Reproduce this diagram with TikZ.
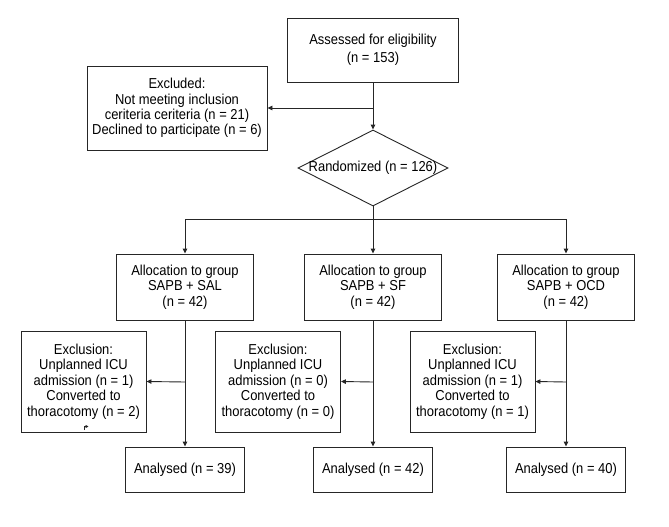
\documentclass[tikz,border=0pt]{standalone}
\usepackage{fontspec}
\setmainfont{Liberation Sans}[FakeStretch=0.9]
\usetikzlibrary{shapes.geometric,arrows.meta}
\begin{document}
\begin{tikzpicture}[x=1pt,y=-1pt,
  every node/.style={font=\fontsize{14.4}{15.4}\selectfont},
  box/.style={draw=black!85,line width=0.9pt,align=center,inner sep=0pt,anchor=center},
  conn/.style={draw=black!85,line width=0.9pt},
  arr/.style={conn,-{Triangle[length=5pt,width=4.5pt]}}]
\useasboundingbox (0,0) rectangle (669,527);
\fill[white] (0,0) rectangle (669,527);
% top
\node[box,minimum width=171pt,minimum height=64pt,font=\fontsize{14.4}{17.7}\selectfont] (assess) at (373,50) {Assessed for eligibility\\(n = 153)};
\node[box,minimum width=180pt,minimum height=84pt] (excl) at (177,108) {Excluded:\\Not meeting inclusion\\ceriteria ceriteria (n = 21)\\Declined to participate (n = 6)};
\node[draw=black!85,line width=0.9pt,diamond,minimum width=150pt,minimum height=76pt,inner sep=0pt] (rand) at (373,168) {};
\node (randt) at (373,168) {Randomized (n = 126)};
\coordinate (br) at (373,108);
\draw[arr] (assess.south) -- (rand.north);
\draw[arr] (br) -- (excl.east);
% split
\coordinate (split) at (373,219);
\coordinate (sl) at (185,219);
\coordinate (sr) at (566,219);
\draw[conn] (rand.south) -- (split);
\draw[conn] (sl) -- (sr);
% allocation
\node[box,minimum width=137pt,minimum height=66pt] (a1) at (185,287) {Allocation to group\\SAPB + SAL\\(n = 42)};
\node[box,minimum width=137pt,minimum height=66pt] (a2) at (373,287) {Allocation to group\\SAPB + SF\\(n = 42)};
\node[box,minimum width=137pt,minimum height=66pt] (a3) at (566,287) {Allocation to group\\SAPB + OCD\\(n = 42)};
\draw[arr] (sl) -- (a1.north);
\draw[arr] (split) -- (a2.north);
\draw[arr] (sr) -- (a3.north);
% exclusions
\node[box,minimum width=125pt,minimum height=101pt] (e1) at (83.5,381.5) {Exclusion:\\Unplanned ICU\\admission (n = 1)\\Converted to\\thoracotomy (n = 2)};
\node[box,minimum width=125pt,minimum height=101pt] (e2) at (278,381.5) {Exclusion:\\Unplanned ICU\\admission (n = 0)\\Converted to\\thoracotomy (n = 0)};
\node[box,minimum width=125pt,minimum height=101pt] (e3) at (472.5,381.5) {Exclusion:\\Unplanned ICU\\admission (n = 1)\\Converted to\\thoracotomy (n = 1)};
% analysed
\node[box,minimum width=119pt,minimum height=45pt] (n1) at (185,469.5) {Analysed (n = 39)};
\node[box,minimum width=119pt,minimum height=45pt] (n2) at (373,469.5) {Analysed (n = 42)};
\node[box,minimum width=119pt,minimum height=45pt] (n3) at (566,469.5) {Analysed (n = 40)};
\draw[arr] (a1.south) -- (n1.north);
\draw[arr] (a2.south) -- (n2.north);
\draw[arr] (a3.south) -- (n3.north);
\coordinate (b1) at (185,382);
\coordinate (b2) at (373,382);
\coordinate (b3) at (566,382);
\draw[arr] (b1) -- (e1.east);
\draw[arr] (b2) -- (e2.east);
\draw[arr] (b3) -- (e3.east);
% stray mark
\coordinate (m1) at (84.5,430);
\coordinate (m2) at (84.5,426.5);
\coordinate (m3) at (88.5,426.5);
\draw[conn,line width=0.7pt,-{Triangle[length=3pt,width=3pt]}] (m1) -- (m2) -- (m3);
\end{tikzpicture}
\end{document}
